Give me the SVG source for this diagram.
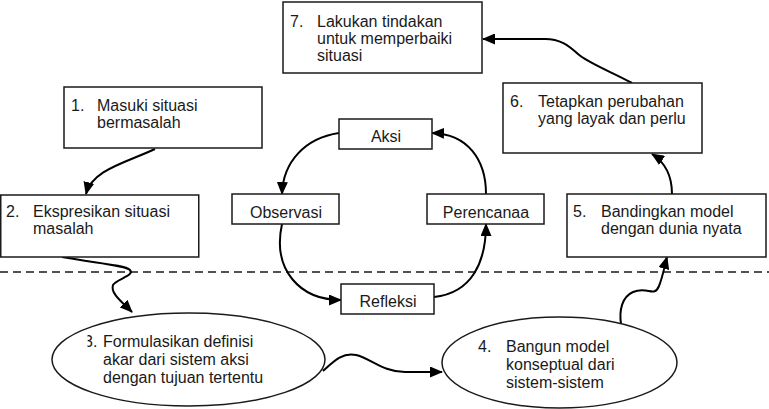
<svg xmlns="http://www.w3.org/2000/svg" width="769" height="409" viewBox="0 0 769 409">
  <style>
    .box { fill: #ffffff; stroke: #1a1a1a; stroke-width: 1.5; }
    .lbl { font-family: "Liberation Sans", Arial, sans-serif; font-size: 16px; fill: #1a1a1a; }
    .mid { text-anchor: middle; }
    .con { fill: none; stroke: #000000; stroke-width: 2; marker-end: url(#arrow); }
    .divider { stroke: #1a1a1a; stroke-width: 1.5; stroke-dasharray: 8 5; fill: none; }
  </style>
  <defs>
    <marker id="arrow" markerUnits="userSpaceOnUse" markerWidth="13" markerHeight="11" refX="12" refY="5.5" orient="auto">
      <path d="M0,0 L13,5.5 L0,11 z" fill="#000000"/>
    </marker>
    <clipPath id="clip3">
      <rect x="87.5" y="330" width="200" height="70"/>
    </clipPath>
  </defs>

  <!-- boundary between real world (top) and systems thinking (bottom) -->
  <path class="divider" d="M0,272 H769"/>

  <!-- connectors -->
  <g id="connectors">
    <path class="con" d="M155,149 C125,163 92,170 86,194"/>
    <path class="con" d="M62,257 C95,263 125,265 130,270 C135,276 116,279 113,285 C110,293 122,302 132,312"/>
    <path class="con" d="M323,371 C334,361 343,352 356,355 C370,358 383,372 405,372 L442,372"/>
    <path class="con" d="M621,324 C619,310 622,297 633,292 C648,286 654,298 659,286 C663,276 664,268 667,257"/>
    <path class="con" d="M672,194 C672,176 666,163 652,154"/>
    <path class="con" d="M632,83 C612,72 588,63 578,54 C568,45 560,39 545,39 L483,39"/>
    <!-- action research cycle -->
    <path class="con" d="M339,133 C305,138 283,162 282,194"/>
    <path class="con" d="M282,224 C272,270 300,300 341,300"/>
    <path class="con" d="M434,297 C472,293 486,262 486,224"/>
    <path class="con" d="M486,194 C486,160 468,134 432,133"/>
  </g>

  <g id="step1">
    <rect class="box" x="64" y="87" width="198" height="61"/>
    <text class="lbl" x="71" y="111">1.</text>
    <text class="lbl" x="97" y="111">Masuki situasi</text>
    <text class="lbl" x="97" y="128">bermasalah</text>
  </g>

  <g id="step2">
    <rect class="box" x="0.75" y="195" width="198" height="62"/>
    <text class="lbl" x="6" y="217">2.</text>
    <text class="lbl" x="33" y="217">Ekspresikan situasi</text>
    <text class="lbl" x="33" y="234">masalah</text>
  </g>

  <g id="step3">
    <ellipse class="box" cx="188.5" cy="359.5" rx="136.5" ry="46.5"/>
    <text class="lbl" x="84" y="347" clip-path="url(#clip3)">3.</text>
    <text class="lbl" x="103" y="347">Formulasikan definisi</text>
    <text class="lbl" x="103" y="365">akar dari sistem aksi</text>
    <text class="lbl" x="103" y="383">dengan tujuan tertentu</text>
  </g>

  <g id="step4">
    <ellipse class="box" cx="559.5" cy="362.5" rx="117.5" ry="45.5"/>
    <text class="lbl" x="478" y="352">4.</text>
    <text class="lbl" x="506" y="352">Bangun model</text>
    <text class="lbl" x="506" y="370">konseptual dari</text>
    <text class="lbl" x="506" y="388">sistem-sistem</text>
  </g>

  <g id="step5">
    <rect class="box" x="567" y="194" width="199" height="63"/>
    <text class="lbl" x="573" y="217">5.</text>
    <text class="lbl" x="601" y="217">Bandingkan model</text>
    <text class="lbl" x="601" y="234">dengan dunia nyata</text>
  </g>

  <g id="step6">
    <rect class="box" x="503" y="83" width="199" height="70"/>
    <text class="lbl" x="510" y="107">6.</text>
    <text class="lbl" x="538" y="107">Tetapkan perubahan</text>
    <text class="lbl" x="538" y="124">yang layak dan perlu</text>
  </g>

  <g id="step7">
    <rect class="box" x="283" y="2" width="199" height="71"/>
    <text class="lbl" x="290" y="27">7.</text>
    <text class="lbl" x="317" y="27">Lakukan tindakan</text>
    <text class="lbl" x="317" y="44">untuk memperbaiki</text>
    <text class="lbl" x="317" y="61">situasi</text>
  </g>

  <g id="aksi">
    <rect class="box" x="339" y="119" width="93" height="30"/>
    <text class="lbl mid" x="386" y="142">Aksi</text>
  </g>

  <g id="observasi">
    <rect class="box" x="232" y="194" width="107" height="30"/>
    <text class="lbl mid" x="286" y="218">Observasi</text>
  </g>

  <g id="perencanaan">
    <rect class="box" x="427" y="194" width="117" height="30"/>
    <text class="lbl mid" x="486" y="218">Perencanaa</text>
  </g>

  <g id="refleksi">
    <rect class="box" x="341" y="284" width="93" height="30"/>
    <text class="lbl mid" x="388" y="307">Refleksi</text>
  </g>
</svg>
